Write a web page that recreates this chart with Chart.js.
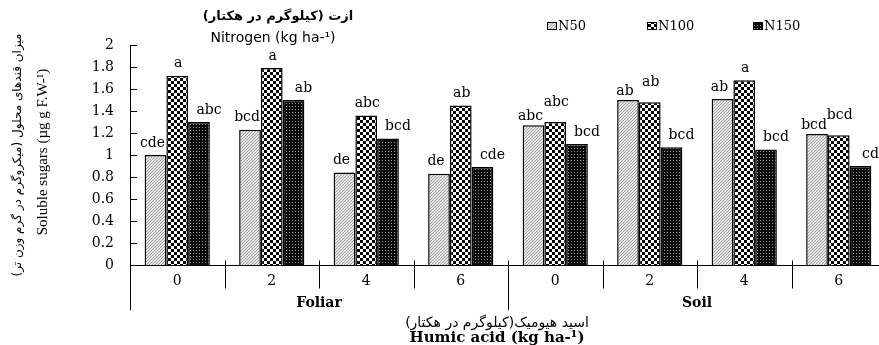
<!DOCTYPE html>
<html><head><meta charset="utf-8">
<script src="https://cdn.jsdelivr.net/npm/chart.js@4/dist/chart.umd.min.js"></script>
<style>html,body{margin:0;padding:0;background:#fff;overflow:hidden;width:879px;height:345px}canvas{display:block}</style>
</head><body>
<canvas id="c" width="886" height="345"></canvas>
<script>
const categories = ["0","2","4","6","0","2","4","6"];
const groups = ["Foliar","Soil"];
const seriesNames = ["N50","N100","N150"];
const n50 = [1.00,1.23,0.84,0.83,1.27,1.50,1.51,1.19];
const n100 = [1.72,1.79,1.36,1.45,1.30,1.48,1.68,1.18];
const n150 = [1.30,1.50,1.15,0.89,1.10,1.07,1.05,0.90];
const n50Letters = ["cde","bcd","de","de","abc","ab","ab","bcd"];
const n100Letters = ["a","a","abc","ab","abc","ab","a","bcd"];
const n150Letters = ["abc","ab","bcd","cde","bcd","bcd","bcd","cd"];
const yTicks = [0,0.2,0.4,0.6,0.8,1,1.2,1.4,1.6,1.8,2];

function makePattern(kind){
  const t=document.createElement('canvas');
  const x=t.getContext('2d');
  if(kind===0){
    t.width=3;t.height=3;
    x.fillStyle='#e4e4e4';x.fillRect(0,0,3,3);
    x.fillStyle='#a2a2a2';
    for(let i=0;i<3;i++){x.fillRect(2-i,i,1,1);}
  } else if(kind===1){
    t.width=6;t.height=6;
    x.fillStyle='#fff';x.fillRect(0,0,6,6);
    x.fillStyle='#000';x.fillRect(0,0,3,3);x.fillRect(3,3,3,3);
  } else {
    t.width=3;t.height=3;
    x.fillStyle='#0a0a0a';x.fillRect(0,0,3,3);
    x.fillStyle='#9a9a9a';x.fillRect(1,1,1,1);
  }
  return x.createPattern(t,'repeat');
}
const pats=[makePattern(0),makePattern(1),makePattern(2)];
const letterSets=[n50Letters,n100Letters,n150Letters];
const seriesVals=[n50,n100,n150];

const overlay={
  id:'overlay',
  beforeDatasetsDraw(chart){
    const ctx=chart.ctx;
    ctx.save();
    ctx.fillStyle='#000';
    ctx.font='14px "DejaVu Serif"';
    ctx.textAlign='center';ctx.textBaseline='middle';
    const dxs=[-3,1,10];
    chart.data.datasets.forEach((ds,di)=>{
      const meta=chart.getDatasetMeta(di);
      meta.data.forEach((el,i)=>{
        let dy=-12;
        const close=Math.abs(seriesVals[0][i]-seriesVals[1][i])<0.1;
        if(close && di===1) dy=-20;
        if(close && di===0) dy=-9;
        ctx.fillText(letterSets[di][i],el.x+dxs[di],el.y+dy);
      });
    });
    ctx.restore();
  },
  afterDraw(chart){
    const ctx=chart.ctx, xs=chart.scales.x, ys=chart.scales.y, a=chart.chartArea;
    ctx.save();
    ctx.strokeStyle='#000';ctx.lineWidth=1;
    ctx.beginPath();ctx.moveTo(a.left+0.5,a.top);ctx.lineTo(a.left+0.5,a.bottom+45);ctx.stroke();
    yTicks.forEach(v=>{const y=Math.round(ys.getPixelForValue(v))+0.5;ctx.beginPath();ctx.moveTo(a.left,y);ctx.lineTo(a.left+7,y);ctx.stroke();});
    const y0=Math.round(ys.getPixelForValue(0))+0.5;
    ctx.beginPath();ctx.moveTo(a.left,y0);ctx.lineTo(a.right,y0);ctx.stroke();
    const n=categories.length, w=(xs.getPixelForValue(1)-xs.getPixelForValue(0));
    for(let i=1;i<n;i++){
      const x=Math.round(xs.getPixelForValue(i)-w/2)+0.5;
      const long=(i%4===0);
      ctx.beginPath();ctx.moveTo(x,y0-5);ctx.lineTo(x,long?a.bottom+45:y0+23);ctx.stroke();
    }
    ctx.fillStyle='#000';ctx.textAlign='center';ctx.textBaseline='middle';
    ctx.font='bold 14px "DejaVu Serif"';
    groups.forEach((g,gi)=>{
      const xc=(xs.getPixelForValue(gi*4)+xs.getPixelForValue(gi*4+3))/2;
      ctx.fillText(g,xc,303);
    });
    ctx.font='bold 13px "DejaVu Sans"';
    ctx.fillText('ازت (کیلوگرم در هکتار)',278,17);
    ctx.font='14px "DejaVu Sans"';
    ctx.fillText('Nitrogen (kg ha-¹)',273,38);
    ctx.font='14px "DejaVu Sans"';
    ctx.fillText('اسید هیومیک(کیلوگرم در هکتار)',497,323);
    ctx.font='bold 15px "DejaVu Serif"';
    ctx.fillText('Humic acid (kg ha-¹)',497,338);
    ctx.save();ctx.translate(18,155);ctx.rotate(-Math.PI/2);
    ctx.font='12px "DejaVu Sans"';
    ctx.fillText('میزان قندهای محلول (میکروگرم در گرم وزن تر)',0,0);
    ctx.restore();
    ctx.save();ctx.translate(43,152);ctx.rotate(-Math.PI/2);
    ctx.font='15px "Liberation Serif"';
    ctx.fillText('Soluble sugars (µg g F.W-¹)',0,0);
    ctx.restore();
    const lx=[547,647,753];
    ctx.font='13px "DejaVu Serif"';ctx.textAlign='left';
    seriesNames.forEach((s,i)=>{
      ctx.fillStyle=pats[i];ctx.fillRect(lx[i],22,10,8);
      ctx.strokeStyle='#000';ctx.lineWidth=1;ctx.strokeRect(lx[i]+0.5,22.5,9,7);
      ctx.fillStyle='#000';ctx.fillText(s,lx[i]+11,27);
    });
    ctx.restore();
  }
};

new Chart(document.getElementById('c'),{
  type:'bar',
  data:{labels:categories,datasets:[
    {label:seriesNames[0],data:n50,backgroundColor:pats[0],borderColor:'#000',borderWidth:1.5},
    {label:seriesNames[1],data:n100,backgroundColor:pats[1],borderColor:'#000',borderWidth:1.5},
    {label:seriesNames[2],data:n150,backgroundColor:pats[2],borderColor:'#000',borderWidth:1.5}
  ]},
  options:{
    responsive:false,animation:false,devicePixelRatio:1,
    layout:{padding:{top:45,left:0,right:0,bottom:0}},
    plugins:{legend:{display:false},tooltip:{enabled:false},title:{display:false}},
    datasets:{bar:{categoryPercentage:0.69,barPercentage:1.0}},
    scales:{
      x:{grid:{display:false,drawTicks:false},border:{display:false},
         ticks:{color:'#000',font:{family:'DejaVu Serif',size:14},padding:8,maxRotation:0,autoSkip:false},
         afterFit(s){s.height=80;}},
      y:{min:0,max:2,grid:{display:false,drawTicks:false},border:{display:false},
         afterBuildTicks(s){s.ticks=yTicks.map(v=>({value:v}));},
         ticks:{color:'#000',font:{family:'DejaVu Serif',size:14},padding:16,callback:v=>String(+v.toFixed(1))},
         afterFit(s){s.width=130;}}
    }
  },
  plugins:[overlay]
});
</script>
</body></html>
